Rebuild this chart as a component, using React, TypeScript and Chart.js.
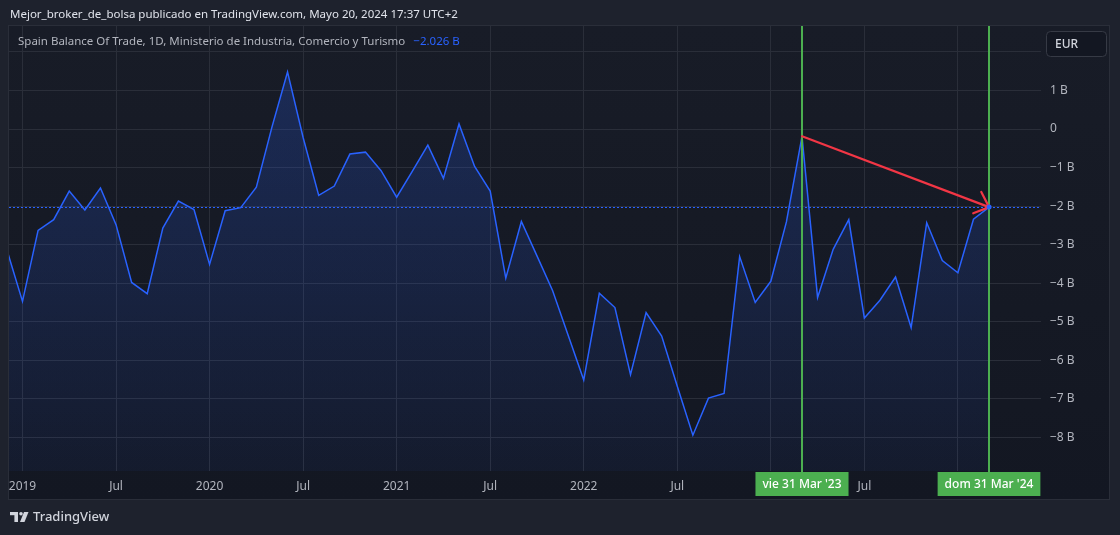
import { useEffect, useRef } from 'react';
import { Chart, registerables } from 'chart.js';

Chart.register(...registerables);

// ---------- DATA ----------
const months: string[] = [
  '2018-12',
  '2019-01', '2019-02', '2019-03', '2019-04', '2019-05', '2019-06', '2019-07', '2019-08', '2019-09', '2019-10', '2019-11', '2019-12',
  '2020-01', '2020-02', '2020-03', '2020-04', '2020-05', '2020-06', '2020-07', '2020-08', '2020-09', '2020-10', '2020-11', '2020-12',
  '2021-01', '2021-02', '2021-03', '2021-04', '2021-05', '2021-06', '2021-07', '2021-08', '2021-09', '2021-10', '2021-11', '2021-12',
  '2022-01', '2022-02', '2022-03', '2022-04', '2022-05', '2022-06', '2022-07', '2022-08', '2022-09', '2022-10', '2022-11', '2022-12',
  '2023-01', '2023-02', '2023-03', '2023-04', '2023-05', '2023-06', '2023-07', '2023-08', '2023-09', '2023-10', '2023-11', '2023-12',
  '2024-01', '2024-02', '2024-03',
];

// Spain balance of trade, billions EUR
const balance: number[] = [
  -3.14,
  -4.47, -2.63, -2.35, -1.61, -2.10, -1.53, -2.48, -3.98, -4.27, -2.57, -1.87, -2.09,
  -3.51, -2.12, -2.04, -1.51, 0.05, 1.48, -0.22, -1.72, -1.48, -0.65, -0.60, -1.08,
  -1.77, -1.10, -0.42, -1.28, 0.13, -0.97, -1.61, -3.87, -2.40, -3.29, -4.19, -5.35,
  -6.51, -4.26, -4.63, -6.37, -4.76, -5.37, -6.67, -7.94, -6.98, -6.86, -3.31, -4.50,
  -3.95, -2.41, -0.19, -4.37, -3.12, -2.35, -4.90, -4.44, -3.84, -5.15, -2.43, -3.41,
  -3.73, -2.34, -2.026,
];

const xTickMonths: string[] = [
  '2019-01', '2019-07', '2020-01', '2020-07', '2021-01', '2021-07',
  '2022-01', '2022-07', '2023-01', '2023-07', '2024-01',
];
const xTickLabels: string[] = ['2019', 'Jul', '2020', 'Jul', '2021', 'Jul', '2022', 'Jul', '', 'Jul', ''];

const yTickValues: number[] = [2, 1, 0, -1, -2, -3, -4, -5, -6, -7, -8];
const yTickLabels: string[] = ['', '1 B', '0', '−1 B', '−2 B', '−3 B', '−4 B', '−5 B', '−6 B', '−7 B', '−8 B'];

const markerMonths: string[] = ['2023-03', '2024-03'];
const markerLabels: string[] = ["vie 31 Mar '23", "dom 31 Mar '24"];

const headerText = 'Mejor_broker_de_bolsa publicado en TradingView.com, Mayo 20, 2024 17:37 UTC+2';
const legendText = 'Spain Balance Of Trade, 1D, Ministerio de Industria, Comercio y Turismo';
const lastValueText = '−2.026 B';
const currencyText = 'EUR';
const brandText = 'TradingView';

// ---------- HELPERS ----------
const monthIndex = (s: string) => {
  const [y, m] = s.split('-').map(Number);
  return (y - 2019) * 12 + (m - 1);
};

const FONT = '"Noto Sans", "Open Sans", sans-serif';
const W = 1120;
const H = 535;

export default function App() {
  const ref = useRef<HTMLCanvasElement | null>(null);

  useEffect(() => {
    const canvas = ref.current;
    if (!canvas) return;

    const points = months.map((m, i) => ({ x: monthIndex(m), y: balance[i] }));
    const lastIdx = points.length - 1;
    const lastValue = balance[lastIdx];

    const decor = {
      id: 'tvDecor',
      beforeDraw(chart: any) {
        const { ctx } = chart;
        ctx.save();
        ctx.fillStyle = '#1e222d';
        ctx.fillRect(0, 0, W, H);
        const g = ctx.createLinearGradient(0, 26, 0, 499);
        g.addColorStop(0, '#181c27');
        g.addColorStop(1, '#131722');
        ctx.fillStyle = g;
        ctx.fillRect(9, 26, 1100, 473);
        ctx.strokeStyle = '#2a2e39';
        ctx.lineWidth = 1;
        ctx.strokeRect(8.5, 25.5, 1101, 474);
        ctx.restore();
      },
      beforeDatasetsDraw(chart: any) {
        const { ctx, chartArea: a, scales } = chart;
        const y = Math.round(scales.y.getPixelForValue(lastValue)) + 0.5;
        ctx.save();
        ctx.strokeStyle = '#2962ff';
        ctx.lineWidth = 1;
        ctx.setLineDash([2, 2]);
        ctx.beginPath();
        ctx.moveTo(a.left, y);
        ctx.lineTo(a.right, y);
        ctx.stroke();
        ctx.restore();
      },
      afterDatasetsDraw(chart: any) {
        const { ctx, chartArea: a, scales } = chart;
        const xs = scales.x;
        const ys = scales.y;
        ctx.save();
        // green vertical markers
        ctx.strokeStyle = '#4caf50';
        ctx.lineWidth = 2;
        markerMonths.forEach((m) => {
          const x = Math.round(xs.getPixelForValue(monthIndex(m)));
          ctx.beginPath();
          ctx.moveTo(x, a.top);
          ctx.lineTo(x, a.bottom + 2);
          ctx.stroke();
        });
        // red arrow
        const i1 = months.indexOf(markerMonths[0]);
        const i2 = months.indexOf(markerMonths[1]);
        const x1 = xs.getPixelForValue(monthIndex(markerMonths[0]));
        const y1 = ys.getPixelForValue(balance[i1]);
        const x2 = xs.getPixelForValue(monthIndex(markerMonths[1]));
        const y2 = ys.getPixelForValue(balance[i2]);
        ctx.strokeStyle = '#f23645';
        ctx.lineWidth = 2.2;
        ctx.lineCap = 'round';
        ctx.lineJoin = 'round';
        ctx.beginPath();
        ctx.moveTo(x1, y1);
        ctx.lineTo(x2, y2);
        const ang = Math.atan2(y2 - y1, x2 - x1);
        const hl = 17;
        const sp = (42 * Math.PI) / 180;
        ctx.moveTo(x2 - hl * Math.cos(ang - sp), y2 - hl * Math.sin(ang - sp));
        ctx.lineTo(x2, y2);
        ctx.lineTo(x2 - hl * Math.cos(ang + sp), y2 - hl * Math.sin(ang + sp));
        ctx.stroke();
        // last point dot
        ctx.fillStyle = '#2962ff';
        ctx.beginPath();
        ctx.arc(x2, y2, 2.5, 0, Math.PI * 2);
        ctx.fill();
        ctx.restore();
      },
      afterDraw(chart: any) {
        const { ctx, chartArea: a, scales } = chart;
        const xs = scales.x;
        ctx.save();
        // header
        ctx.textBaseline = 'middle';
        ctx.textAlign = 'left';
        ctx.fillStyle = '#e0e3eb';
        ctx.font = `11.5px ${FONT}`;
        ctx.fillText(headerText, 10, 15);
        // legend
        ctx.fillStyle = '#b2b5be';
        ctx.font = `11.5px ${FONT}`;
        ctx.fillText(legendText, 18, 42);
        const lw = ctx.measureText(legendText).width;
        ctx.fillStyle = '#2962ff';
        ctx.fillText(lastValueText, 18 + lw + 8, 42);
        // currency box
        ctx.fillStyle = '#131722';
        ctx.strokeStyle = '#363a45';
        ctx.lineWidth = 1;
        ctx.beginPath();
        (ctx as any).roundRect(1046.5, 31.5, 60, 25, 4);
        ctx.fill();
        ctx.stroke();
        ctx.fillStyle = '#d1d4dc';
        ctx.font = `500 12px ${FONT}`;
        ctx.fillText(currencyText, 1055, 44.5);
        // marker badges
        ctx.font = `500 12px ${FONT}`;
        ctx.textAlign = 'center';
        markerMonths.forEach((m, i) => {
          const x = Math.round(xs.getPixelForValue(monthIndex(m)));
          const tw = ctx.measureText(markerLabels[i]).width;
          const bw = tw + 14;
          ctx.fillStyle = '#4caf50';
          ctx.fillRect(x - bw / 2, a.bottom + 1, bw, 24);
          ctx.fillStyle = '#ffffff';
          ctx.fillText(markerLabels[i], x, a.bottom + 14);
        });
        // brand logo
        ctx.fillStyle = '#d1d4dc';
        ctx.fillRect(10, 512, 8, 3.2);
        ctx.fillRect(14.4, 512, 3.6, 10);
        ctx.beginPath();
        ctx.arc(21, 513.7, 1.8, 0, Math.PI * 2);
        ctx.fill();
        ctx.beginPath();
        ctx.moveTo(24, 512);
        ctx.lineTo(28.5, 512);
        ctx.lineTo(24.5, 522);
        ctx.lineTo(20, 522);
        ctx.closePath();
        ctx.fill();
        ctx.textAlign = 'left';
        ctx.font = `500 13px ${FONT}`;
        ctx.fillText(brandText, 33, 517.5);
        ctx.restore();
      },
    };

    const chart = new Chart(canvas, {
      type: 'line',
      data: {
        datasets: [
          {
            data: points,
            borderColor: '#2962ff',
            borderWidth: 1.5,
            pointRadius: 0,
            tension: 0,
            fill: 'start',
            backgroundColor: (c: any) => {
              const area = c.chart.chartArea;
              if (!area) return 'rgba(41,98,255,0.15)';
              const g = c.chart.ctx.createLinearGradient(0, area.top, 0, area.bottom);
              g.addColorStop(0, 'rgba(41,98,255,0.24)');
              g.addColorStop(1, 'rgba(41,98,255,0.05)');
              return g;
            },
          },
        ],
      },
      options: {
        responsive: false,
        animation: false,
        events: [],
        layout: { padding: { left: 9, top: 26, right: 11, bottom: 36 } },
        plugins: { legend: { display: false }, tooltip: { enabled: false } },
        scales: {
          x: {
            type: 'linear',
            position: 'bottom',
            min: (9 - 22.5) / 15.59,
            max: (1041 - 22.5) / 15.59,
            afterFit: (s: any) => {
              s.height = 28;
            },
            afterBuildTicks: (s: any) => {
              s.ticks = xTickMonths.map((m) => ({ value: monthIndex(m) }));
            },
            grid: { color: '#2a2e39', drawTicks: false, lineWidth: 1 },
            border: { display: false },
            ticks: {
              autoSkip: false,
              maxRotation: 0,
              padding: 8,
              color: '#b2b5be',
              font: { family: FONT, size: 12 },
              callback: (v: any) => {
                const i = xTickMonths.findIndex((m) => monthIndex(m) === v);
                return i >= 0 ? xTickLabels[i] : '';
              },
            },
          },
          y: {
            type: 'linear',
            position: 'right',
            min: (129 - 471) / 38.56,
            max: (129 - 26) / 38.56,
            afterFit: (s: any) => {
              s.width = 68;
            },
            afterBuildTicks: (s: any) => {
              s.ticks = yTickValues.map((v) => ({ value: v }));
            },
            grid: { color: '#2a2e39', drawTicks: false, lineWidth: 1 },
            border: { display: false },
            ticks: {
              autoSkip: false,
              crossAlign: 'near',
              padding: 9,
              color: '#b2b5be',
              font: { family: FONT, size: 12 },
              callback: (v: any) => {
                const i = yTickValues.indexOf(v);
                return i >= 0 ? yTickLabels[i] : '';
              },
            },
          },
        },
      },
      plugins: [decor],
    } as any);

    return () => chart.destroy();
  }, []);

  return (
    <div style={{ position: 'fixed', left: 0, top: 0, width: W, height: H, background: '#1e222d' }}>
      <canvas ref={ref} width={W} height={H} style={{ width: W, height: H, display: 'block' }} />
    </div>
  );
}
